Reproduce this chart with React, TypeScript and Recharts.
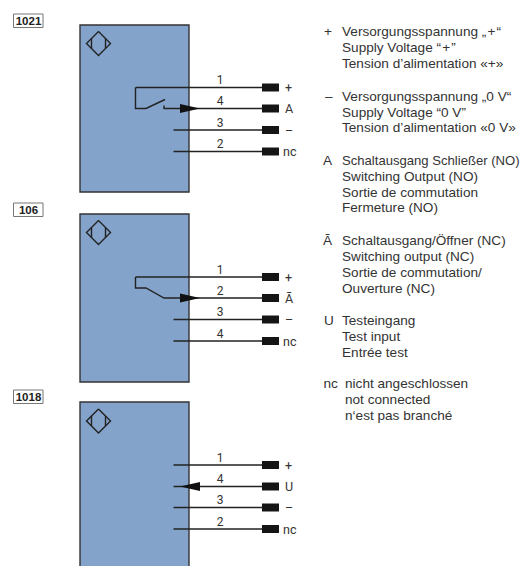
import React from "react";
import { ScatterChart, Scatter, XAxis, YAxis, ReferenceArea } from "recharts";

const WIDTH = 520;
const HEIGHT = 566;
const BLUE = "#84a3cb";
const INK = "#222";

// sensor blocks, all values in picture pixels used as axis units
const blockLabels = ["1021", "106", "1018"];
const labelTops = [14, 203, 390];
const blockTops = [25, 214, 402];
const blockBottoms = [192, 382, 580];
const diamondCentres = [43.5, 232.5, 421];
const wireRows = [
  [87.5, 108.5, 130, 151.5],
  [277, 298, 319.5, 341],
  [465, 486.5, 507.5, 529],
];
const pinNumbers = [
  ["1", "4", "3", "2"],
  ["1", "2", "3", "4"],
  ["1", "4", "3", "2"],
];
const terminalNames = [
  ["+", "A", "–", "nc"],
  ["+", "Ā", "–", "nc"],
  ["+", "U", "–", "nc"],
];

const switchOpen = [
  [{ x: 135.5, y: 87.5 }, { x: 135.5, y: 108.5 }, { x: 146, y: 108.5 }, { x: 165, y: 99.5 }],
  [{ x: 164, y: 105.5 }, { x: 164, y: 108.5 }, { x: 262, y: 108.5 }],
  [{ x: 135.5, y: 87.5 }, { x: 262, y: 87.5 }],
];
const switchClosed = [
  [{ x: 135.5, y: 277 }, { x: 262, y: 277 }],
  [{ x: 135.5, y: 277 }, { x: 135.5, y: 288 }, { x: 146, y: 288 }, { x: 164, y: 298 }, { x: 262, y: 298 }],
];
const arrows = [
  { x: 180, y: 108.5, dir: 1 },
  { x: 180, y: 298, dir: 1 },
  { x: 200, y: 486.5, dir: -1 },
];

const legendSymbols = ["+", "–", "A", "Ā", "U", "nc"];
const legendSymbolX = [324, 325, 323, 323, 324, 323.5];
const legendSymbolY = [36, 101, 165, 245, 325, 388];

const legendTexts = [
  "Versorgungsspannung „\u200A+\u200A“",
  "Supply Voltage “\u200A+\u200A”",
  "Tension d’alimentation «+»",
  "Versorgungsspannung „0 V“",
  "Supply Voltage “0 V”",
  "Tension d’alimentation «0 V»",
  "Switching Output (NO)",
  "Sortie de commutation",
  "Fermeture (NO)",
  "Schaltausgang/Öffner (NC)",
  "Switching output (NC)",
  "Sortie de commutation/",
  "Ouverture (NC)",
  "Testeingang",
  "Test input",
  "Entrée test",
];
const legendBaselines = [36, 52, 68, 101, 117, 132, 181, 197, 212, 245, 261, 277, 293, 325, 341, 357];
const longLine = ["Schaltausgang Schließer (NO)"];
const longLineBaseline = [165];
const ncTexts = ["nicht angeschlossen", "not connected", "n‘est pas branché"];
const ncBaselines = [388, 404, 420];

const wirePaths = wireRows.flatMap((rows, b) =>
  rows
    .map((y, r) => ({ y, r }))
    .filter(({ r }) => b === 2 || r >= 2)
    .map(({ y }) => [{ x: 173.5, y }, { x: 262, y }])
);
const pinPaths = wireRows.flat().map((y) => [{ x: 262, y }, { x: 279, y }]);
const diamondPaths = diamondCentres.flatMap((c) => [
  [
    { x: 98.5, y: c - 12 },
    { x: 110.5, y: c },
    { x: 98.5, y: c + 12 },
    { x: 86.5, y: c },
    { x: 98.5, y: c - 12 },
  ],
  [{ x: 91.5, y: c - 5 }, { x: 91.5, y: c + 5 }],
  [{ x: 105.5, y: c - 5 }, { x: 105.5, y: c + 5 }],
]);
const pinLabels = wireRows.flatMap((rows, b) =>
  rows.map((y, r) => ({ x: 220, y: y - 3.5, text: pinNumbers[b][r] }))
);
const terminalLabels = wireRows.flatMap((rows, b) =>
  rows.map((y, r) => ({
    x: terminalNames[b][r] === "nc" ? 283 : 285,
    y: y + 4.5,
    text: terminalNames[b][r],
  }))
);
const boxLabels = blockLabels.map((text, i) => ({ x: 28.5, y: labelTops[i] + 11, text }));
const legendSymbolData = legendSymbols.map((text, i) => ({ x: legendSymbolX[i], y: legendSymbolY[i], text }));
const legendData = [
  ...legendTexts.map((text, i) => ({ x: 342, y: legendBaselines[i], text })),
  ...ncTexts.map((text, i) => ({ x: 345, y: ncBaselines[i], text })),
];
const longLineData = longLine.map((text, i) => ({ x: 342, y: longLineBaseline[i], text }));

const noMark = () => null;

const makeText = (font: string, size: number, color: string, anchor: string, weight = 400) => (p: any) =>
  (
    <text
      x={p.cx}
      y={p.cy}
      fontFamily={font}
      fontSize={size}
      fontWeight={weight}
      fill={color}
      textAnchor={anchor}
    >
      {p.payload.text}
    </text>
  );

const Arrowhead = (p: any) => {
  const tip = p.cx + p.payload.dir * 20;
  return (
    <polygon
      points={`${p.cx},${p.cy - 4.5} ${tip},${p.cy} ${p.cx},${p.cy + 4.5}`}
      fill="#111"
    />
  );
};

const path = (data: { x: number; y: number }[], key: string, width = 1.4, color = INK) => (
  <Scatter
    key={key}
    data={data}
    line={{ stroke: color, strokeWidth: width }}
    shape={noMark}
    isAnimationActive={false}
  />
);

export default function App() {
  return (
    <div style={{ position: "absolute", left: 0, top: 0, width: WIDTH, height: HEIGHT, background: "#fff" }}>
      <ScatterChart width={WIDTH} height={HEIGHT} margin={{ top: 0, right: 0, bottom: 0, left: 0 }}>
        <XAxis type="number" dataKey="x" domain={[0, WIDTH]} hide />
        <YAxis type="number" dataKey="y" domain={[0, HEIGHT]} reversed hide />

        {blockTops.map((top, i) => (
          <ReferenceArea
            key={`block-${i}`}
            x1={80}
            x2={189}
            y1={top}
            y2={blockBottoms[i]}
            fill={BLUE}
            fillOpacity={1}
            stroke="#333"
            strokeWidth={1.4}
            ifOverflow="visible"
          />
        ))}
        {labelTops.map((top, i) => (
          <ReferenceArea
            key={`label-${i}`}
            x1={13.5}
            x2={43}
            y1={top}
            y2={top + 13.5}
            fill="#fff"
            fillOpacity={1}
            stroke="#777"
            strokeWidth={1}
          />
        ))}

        {diamondPaths.map((d, i) => path(d, `diamond-${i}`))}
        {wirePaths.map((d, i) => path(d, `wire-${i}`))}
        {switchOpen.map((d, i) => path(d, `open-${i}`))}
        {switchClosed.map((d, i) => path(d, `closed-${i}`))}
        {pinPaths.map((d, i) => path(d, `pin-${i}`, 8, "#151515"))}

        <Scatter data={arrows} shape={Arrowhead} isAnimationActive={false} />
        <Scatter
          data={boxLabels}
          shape={makeText("Liberation Sans", 11.5, "#222", "middle", 700)}
          isAnimationActive={false}
        />
        <Scatter
          data={pinLabels}
          shape={makeText("Roboto", 12, "#333", "middle")}
          isAnimationActive={false}
        />
        <Scatter
          data={terminalLabels}
          shape={makeText("Roboto", 12.5, "#333", "start")}
          isAnimationActive={false}
        />
        <Scatter
          data={legendSymbolData}
          shape={makeText("Liberation Sans", 13.6, "#333", "start")}
          isAnimationActive={false}
        />
        <Scatter
          data={legendData}
          shape={makeText("Liberation Sans", 13.6, "#333", "start")}
          isAnimationActive={false}
        />
        {/* the reference runs this line off the edge, so it is a touch smaller to stay readable */}
        <Scatter
          data={longLineData}
          shape={makeText("Liberation Sans", 13.1, "#333", "start")}
          isAnimationActive={false}
        />
      </ScatterChart>
    </div>
  );
}
